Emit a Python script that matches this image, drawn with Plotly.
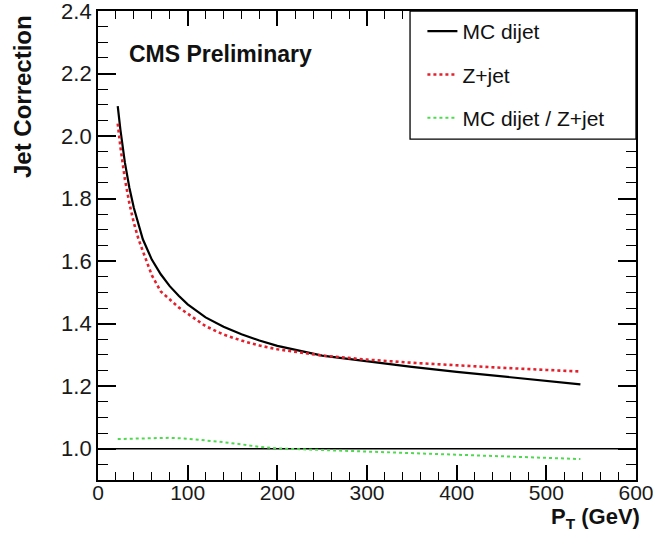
import plotly.graph_objects as go

# ---- data ----
pt = [22, 25, 30, 35, 40, 45, 50, 60, 70, 80, 90, 100, 120, 140, 160, 180,
      200, 250, 300, 350, 400, 450, 500, 538]
mc_dijet = [2.096, 2.020, 1.915, 1.835, 1.770, 1.716, 1.670, 1.605, 1.558, 1.520,
            1.489, 1.462, 1.420, 1.390, 1.366, 1.346, 1.329, 1.298, 1.279, 1.262,
            1.246, 1.231, 1.217, 1.206]
z_jet = [2.040, 1.965, 1.862, 1.785, 1.722, 1.672, 1.632, 1.555, 1.503, 1.476,
         1.452, 1.432, 1.392, 1.365, 1.346, 1.330, 1.318, 1.298, 1.285, 1.275,
         1.266, 1.259, 1.252, 1.247]
ratio_pt = [22, 40, 60, 80, 100, 120, 140, 160, 180, 200, 250, 300, 350, 400,
            450, 500, 538]
ratio = [1.031, 1.033, 1.035, 1.035, 1.032, 1.027, 1.021, 1.014, 1.006, 1.001,
         0.996, 0.989, 0.984, 0.980, 0.975, 0.970, 0.967]
ref_level = 1.0
x_range = [0, 600]
y_range = [0.9, 2.4]

FONT = "Liberation Sans, Arial, Helvetica, sans-serif"

fig = go.Figure()
fig.add_trace(go.Scatter(x=pt, y=mc_dijet, mode="lines", name="MC dijet",
                         legendgroup="a",
                         line=dict(color="black", width=2.2)))
fig.add_trace(go.Scatter(x=pt, y=z_jet, mode="lines", name="Z+jet",
                         legendgroup="b",
                         line=dict(color="#e4202c", width=2.6, dash="dot")))
fig.add_trace(go.Scatter(x=ratio_pt, y=ratio, mode="lines",
                         name="MC dijet / Z+jet", legendgroup="c",
                         line=dict(color="#4fd94f", width=2.0, dash="dot")))

fig.add_hline(y=ref_level, line=dict(color="black", width=1.5), layer="below")

# legend box
fig.add_shape(type="rect", xref="paper", yref="paper",
              x0=0.58, x1=1.0, y0=0.727, y1=1.0,
              fillcolor="white", line=dict(color="black", width=1.3),
              layer="above")

fig.update_layout(
    width=653, height=535,
    margin=dict(l=98, r=17, t=11, b=55, autoexpand=False),
    paper_bgcolor="white", plot_bgcolor="white",
    font=dict(family=FONT, color="#1a1a1a", size=21),
    showlegend=True,
    legend=dict(x=0.603, y=1.0, xanchor="left", yanchor="top",
                bgcolor="rgba(0,0,0,0)", borderwidth=0,
                font=dict(size=21, family=FONT, color="#111"),
                tracegroupgap=13, traceorder="grouped"),
    xaxis=dict(range=x_range, dtick=100, tick0=0, showgrid=False,
               zeroline=False, showline=True, linecolor="black", linewidth=1.8,
               mirror="allticks", ticks="inside", ticklen=15, tickwidth=1.5,
               tickcolor="black", automargin=False, ticklabeloverflow="allow",
               ticklabelstandoff=-7,
               tickfont=dict(size=21, family=FONT, color="#1a1a1a"),
               minor=dict(dtick=20, ticks="inside", ticklen=8, tickwidth=1.3,
                          tickcolor="black", showgrid=False)),
    yaxis=dict(range=y_range, dtick=0.2, tick0=0, tickformat=".1f",
               showgrid=False, zeroline=False, showline=True,
               linecolor="black", linewidth=1.8, mirror="allticks",
               ticks="inside", ticklen=18, tickwidth=1.5, tickcolor="black",
               automargin=False, ticklabeloverflow="allow",
               tickfont=dict(size=22, family=FONT, color="#1a1a1a"),
               minor=dict(dtick=0.05, ticks="inside", ticklen=10,
                          tickwidth=1.3, tickcolor="black", showgrid=False)),
)

fig.add_annotation(text="<b>CMS Preliminary</b>", xref="paper", yref="paper",
                   x=0.054, y=0.908, xanchor="left", yanchor="middle",
                   showarrow=False, font=dict(size=23, family=FONT, color="#111"))
fig.add_annotation(text="<b>Jet Correction</b>", xref="paper", yref="paper",
                   x=-0.139, y=0.817, xanchor="center", yanchor="middle",
                   textangle=-90, showarrow=False,
                   font=dict(size=24, family=FONT, color="#111"))
fig.add_annotation(text="<b>P<sub>T</sub> (GeV)</b>", xref="paper", yref="paper",
                   x=0.924, y=-0.081, xanchor="center", yanchor="middle",
                   showarrow=False, font=dict(size=22, family=FONT, color="#111"))

fig.write_html("out.html")
